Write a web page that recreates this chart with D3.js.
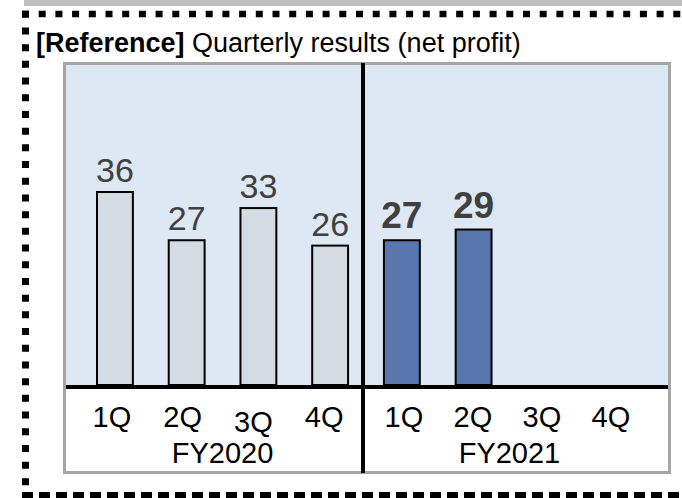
<!DOCTYPE html>
<html>
<head>
<meta charset="utf-8">
<script src="https://cdn.jsdelivr.net/npm/d3@7"></script>
<style>
  body { margin: 0; background: #fff; }
  svg { display: block; font-family: "Liberation Sans", Arial, sans-serif; }
</style>
</head>
<body>
<svg width="682" height="498"></svg>
<script>
// data
var years = ["FY2020", "FY2021"];
var quarters = ["1Q", "2Q", "3Q", "4Q"];
var profit2020 = [36, 27, 33, 26];
var profit2021 = [27, 29, null, null];

var svg = d3.select("svg");

// flat list of slots, one per quarter
var slots = [];
years.forEach(function(fy, i) {
  var vals = i === 0 ? profit2020 : profit2021;
  quarters.forEach(function(q, j) {
    slots.push({key: fy + "-" + q, fy: fy, q: q, idx: j, value: vals[j], current: i === 1});
  });
});

var baseline = 387;

var x = d3.scaleBand()
    .domain(slots.map(function(d) { return d.key; }))
    .range([97, 635])
    .paddingInner(0.5)
    .paddingOuter(0);

var y = d3.scaleLinear()
    .domain([0, 36])
    .range([baseline - 2, 192]);

// grey strip at top
svg.append("rect")
    .attr("x", 24).attr("y", 0)
    .attr("width", 658).attr("height", 6)
    .attr("fill", "#bfbfbf");

// dotted frame
svg.append("line")
    .attr("x1", 22).attr("x2", 682).attr("y1", 14).attr("y2", 14)
    .attr("stroke", "#000").attr("stroke-width", 6.5)
    .attr("stroke-dasharray", "7 9.7");
svg.append("line")
    .attr("x1", 25.5).attr("x2", 25.5).attr("y1", 10.75).attr("y2", 498)
    .attr("stroke", "#000").attr("stroke-width", 7)
    .attr("stroke-dasharray", "7 9.7");
svg.append("line")
    .attr("x1", 22).attr("x2", 682).attr("y1", 495).attr("y2", 495)
    .attr("stroke", "#000").attr("stroke-width", 6)
    .attr("stroke-dasharray", "11 6");

// title
var title = svg.append("text")
    .attr("x", 36).attr("y", 52)
    .attr("font-size", "27px")
    .attr("fill", "#000");
title.append("tspan").attr("font-weight", "bold").text("[Reference]");
title.append("tspan").text(" Quarterly results (net profit)");

// panel
svg.append("rect")
    .attr("x", 64.5).attr("y", 63.5)
    .attr("width", 605).attr("height", 409)
    .attr("fill", "#fff")
    .attr("stroke", "#a6a6a6").attr("stroke-width", 3);

svg.append("rect")
    .attr("x", 66).attr("y", 65)
    .attr("width", 602).attr("height", baseline - 65)
    .attr("fill", "#dde8f4");

// bars
svg.append("g").selectAll("rect")
  .data(slots.filter(function(d) { return d.value != null; }))
  .enter().append("rect")
    .attr("x", function(d) { return x(d.key); })
    .attr("y", function(d) { return y(d.value); })
    .attr("width", x.bandwidth())
    .attr("height", function(d) { return y(0) - y(d.value); })
    .attr("fill", function(d) { return d.current ? "#5877ae" : "#d5dbe2"; })
    .attr("stroke", "#000").attr("stroke-width", 2);

// value labels
svg.append("g").selectAll("text")
  .data(slots.filter(function(d) { return d.value != null; }))
  .enter().append("text")
    .attr("x", function(d) { return x(d.key) + x.bandwidth() / 2; })
    .attr("y", function(d) { return y(d.value) - (d.current ? 12 : 10); })
    .attr("text-anchor", "middle")
    .attr("font-size", function(d) { return d.current ? "37px" : "34px"; })
    .attr("font-weight", function(d) { return d.current ? "bold" : "normal"; })
    .attr("fill", "#404040")
    .text(function(d) { return d.value; });

// baseline and divider
svg.append("line")
    .attr("x1", 66).attr("x2", 668).attr("y1", baseline).attr("y2", baseline)
    .attr("stroke", "#000").attr("stroke-width", 4);
svg.append("line")
    .attr("x1", 363).attr("x2", 363).attr("y1", 63).attr("y2", 473)
    .attr("stroke", "#000").attr("stroke-width", 4);

// quarter tick labels, spaced a little tighter than the bars
// (3Q of FY2020 sits a bit lower in the original)
svg.append("g").selectAll("text")
  .data(slots)
  .enter().append("text")
    .attr("x", function(d) {
      var shift = d.current ? 2 - 2.7 * d.idx : -3 - d.idx;
      return x(d.key) + x.bandwidth() / 2 + shift;
    })
    .attr("y", function(d) { return d.key === "FY2020-3Q" ? 432 : 427; })
    .attr("text-anchor", "middle")
    .attr("font-size", "29px")
    .attr("fill", "#000")
    .text(function(d) { return d.q; });

// fiscal year labels
svg.append("g").selectAll("text")
  .data(years)
  .enter().append("text")
    .attr("x", function(fy) {
      return (x(fy + "-1Q") + x(fy + "-4Q") + x.bandwidth()) / 2;
    })
    .attr("y", 463)
    .attr("text-anchor", "middle")
    .attr("font-size", "29px")
    .attr("fill", "#000")
    .text(function(fy) { return fy; });
</script>
</body>
</html>
